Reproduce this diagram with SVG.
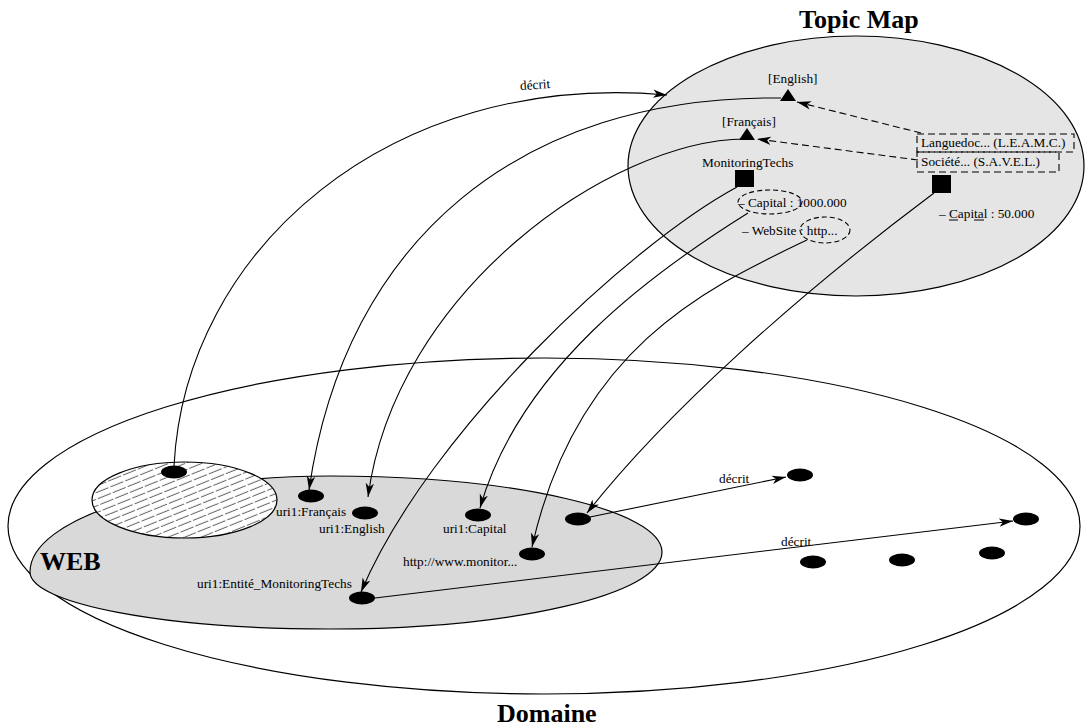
<svg xmlns="http://www.w3.org/2000/svg" width="1086" height="726" viewBox="0 0 1086 726">
  <style>
    .lbl { font-family: "Liberation Serif", "Times New Roman", serif; font-size: 13.3px; fill: #000; }
    .title { font-family: "Liberation Serif", "Times New Roman", serif; font-size: 26px; font-weight: bold; fill: #000; }
    .edge { fill: none; stroke: #000; stroke-width: 1.1; }
    .dash { fill: none; stroke: #000; stroke-width: 1.1; stroke-dasharray: 7 4; }
    .dot { fill: #000; }
    .area { stroke: #000; stroke-width: 1.2; }
  </style>
  <defs>
    <marker id="arrow" markerUnits="userSpaceOnUse" markerWidth="15" markerHeight="10" refX="14" refY="5" orient="auto">
      <path d="M0,0.8 L14,5 L0,9.2 L3.8,5 z" fill="#000"/>
    </marker>
    <pattern id="hatch" patternUnits="userSpaceOnUse" width="16" height="6.2" patternTransform="rotate(-22)">
      <line x1="0" y1="3" x2="16" y2="3" stroke="#222" stroke-width="0.75" stroke-dasharray="14 2"/>
    </pattern>
  </defs>

  <rect width="1086" height="726" fill="#fff"/>

  <!-- Domaine: outer universe -->
  <g id="domaine">
    <ellipse class="area" cx="544" cy="526" rx="536" ry="168" fill="#fff"/>
    <text class="title" x="497" y="722">Domaine</text>
  </g>

  <!-- Topic Map -->
  <g id="topic-map">
    <ellipse class="area" cx="856" cy="166" rx="228" ry="130" fill="#e5e5e5"/>
    <text class="title" x="799" y="28">Topic Map</text>
  </g>

  <!-- WEB region -->
  <g id="web">
    <path class="area" fill="#d9d9d9" d="M30,572 C30,519 164,476 330,476 C513,476 662,510 662,552 C662,594.5 513,629 330,629 C164,629 30,603.5 30,572 Z"/>
    <text class="title" x="40" y="570">WEB</text>
  </g>

  <!-- hatched subset -->
  <g id="hatched-zone">
    <ellipse cx="184.5" cy="500" rx="92.5" ry="38" fill="#fff"/>
    <ellipse class="area" cx="184.5" cy="500" rx="92.5" ry="38" fill="url(#hatch)"/>
  </g>

  <!-- connectors -->
  <g id="connectors">
    <path class="edge" marker-end="url(#arrow)" d="M174,466 C185,250 390,70 667,95"/>
    <text class="lbl" x="520" y="89" transform="rotate(-4 536 86)">décrit</text>
    <path class="edge" marker-end="url(#arrow)" d="M781,98 C520,95 345,240 309,490"/>
    <path class="edge" marker-end="url(#arrow)" d="M745,139 C610,140 395,292 368,497"/>
    <path class="edge" marker-end="url(#arrow)" d="M737,187 C630,245 430,430 361,592"/>
    <path class="edge" marker-end="url(#arrow)" d="M748,213 C652,273 520,368 480,508"/>
    <path class="edge" marker-end="url(#arrow)" d="M807,240 C711,286 577,346 532,547"/>
    <path class="edge" marker-end="url(#arrow)" d="M934,193 C795,297 665,414 587,513"/>
    <path class="dash" marker-end="url(#arrow)" d="M921,133 L797,102"/>
    <path class="dash" marker-end="url(#arrow)" d="M918,160 L757,139"/>
    <path class="edge" marker-end="url(#arrow)" d="M590,517 L786,477"/>
    <text class="lbl" x="719" y="483">décrit</text>
    <path class="edge" marker-end="url(#arrow)" d="M375,598 L1013,521"/>
    <text class="lbl" x="781" y="546">décrit</text>
  </g>

  <!-- topic map contents -->
  <g id="topic-english">
    <text class="lbl" x="768" y="83">[English]</text>
    <polygon points="788,89 780,101 796,101" fill="#000"/>
  </g>
  <g id="topic-francais">
    <text class="lbl" x="722" y="126">[Français]</text>
    <polygon points="747,128 739,140 755,140" fill="#000"/>
  </g>
  <g id="topic-monitoringtechs">
    <text class="lbl" x="702" y="167">MonitoringTechs</text>
    <rect x="735" y="170" width="19" height="17" fill="#000"/>
    <text class="lbl" x="738" y="207">– Capital : 1000.000</text>
    <ellipse class="dash" cx="770" cy="202" rx="32" ry="12" style="stroke-dasharray:5 3"/>
    <text class="lbl" x="742" y="235">– WebSite : http...</text>
    <ellipse class="dash" cx="825" cy="230" rx="25" ry="13" style="stroke-dasharray:5 3"/>
  </g>
  <g id="topic-savel">
    <rect class="dash" x="917" y="134" width="157" height="18"/>
    <text class="lbl" x="921" y="147">Languedoc... (L.E.A.M.C.)</text>
    <rect class="dash" x="917" y="152" width="142" height="20"/>
    <text class="lbl" x="921" y="166">Société... (S.A.V.E.L.)</text>
    <rect x="932" y="175" width="19" height="18" fill="#000"/>
    <text class="lbl" x="939" y="218">– Capital : 50.000</text>
    <line x1="949" y1="220" x2="958" y2="220" stroke="#000" stroke-width="1"/>
    <line x1="974" y1="220" x2="984" y2="220" stroke="#000" stroke-width="1"/>
  </g>

  <!-- resources -->
  <g id="res-hatched"><ellipse class="dot" cx="174" cy="472" rx="13" ry="6.5"/></g>
  <g id="res-francais">
    <ellipse class="dot" cx="311" cy="496" rx="13" ry="6.5"/>
    <text class="lbl" x="276" y="516">uri1:Français</text>
  </g>
  <g id="res-english">
    <ellipse class="dot" cx="365" cy="513" rx="13" ry="6.5"/>
    <text class="lbl" x="319" y="533">uri1:English</text>
  </g>
  <g id="res-capital">
    <ellipse class="dot" cx="478" cy="515" rx="13" ry="6.5"/>
    <text class="lbl" x="443" y="533">uri1:Capital</text>
  </g>
  <g id="res-http">
    <ellipse class="dot" cx="532" cy="554" rx="13" ry="6.5"/>
    <text class="lbl" x="403" y="566">http://www.monitor...</text>
  </g>
  <g id="res-savel"><ellipse class="dot" cx="578" cy="519" rx="13" ry="6.5"/></g>
  <g id="res-entite">
    <ellipse class="dot" cx="362" cy="598" rx="13" ry="6.5"/>
    <text class="lbl" x="197" y="588">uri1:Entité_MonitoringTechs</text>
  </g>
  <g id="obj-1"><ellipse class="dot" cx="800" cy="475" rx="13" ry="6.5"/></g>
  <g id="obj-2"><ellipse class="dot" cx="1026" cy="519" rx="13" ry="6.5"/></g>
  <g id="obj-3"><ellipse class="dot" cx="813" cy="562" rx="13" ry="6.5"/></g>
  <g id="obj-4"><ellipse class="dot" cx="902" cy="560" rx="13" ry="6.5"/></g>
  <g id="obj-5"><ellipse class="dot" cx="992" cy="553" rx="13" ry="6.5"/></g>
</svg>
